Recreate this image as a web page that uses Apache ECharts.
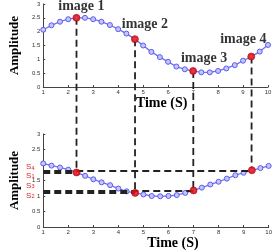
<!DOCTYPE html>
<html><head><meta charset="utf-8">
<script src="https://cdn.jsdelivr.net/npm/echarts@6/dist/echarts.min.js"></script>
<style>html,body{margin:0;padding:0;background:#fff}#c{width:275px;height:251px}</style>
</head><body><div id="c"></div>
<script>
// Time samples (s)
var times = [1.00,1.33,1.67,2.00,2.33,2.67,3.00,3.33,3.67,4.00,4.33,4.67,5.00,5.33,5.67,6.00,6.33,6.67,7.00,7.33,7.67,8.00,8.33,8.67,9.00,9.33,9.67,10.00];
// Top: amplitude
var topAmp = [2.07,2.23,2.36,2.45,2.50,2.50,2.45,2.36,2.24,2.09,1.93,1.73,1.50,1.27,1.08,0.91,0.74,0.64,0.58,0.53,0.53,0.58,0.67,0.79,0.95,1.10,1.28,1.52];
// Bottom: amplitude
var botAmp = [2.05,1.98,1.92,1.85,1.76,1.65,1.54,1.44,1.35,1.24,1.15,1.10,1.05,1.00,0.99,1.00,1.03,1.10,1.18,1.27,1.37,1.46,1.56,1.67,1.75,1.83,1.90,1.97];
// Sampled images (indices into times)
var imageIdx = [4, 11, 18, 25];
var imageNames = ['image 1','image 2','image 3','image 4'];
var sSubs = ['1','2','3','4'];
var xTicks = [1,2,3,4,5,6,7,8,9,10];

var chart = echarts.init(document.getElementById('c'), null, {renderer:'canvas'});
var serif = '"Liberation Serif", "Times New Roman", serif';
var labelOffsets = [[5,-11],[10,-15],[11,-13],[-8,-17]];
var sOffsets = [2.5, 2.5, -5, -3.5];

function axisX(gi, nameGap, pad){
  return {gridIndex:gi, type:'value', min:1, max:10, interval:1,
    name:'Time (S)', nameLocation:'middle', nameGap:nameGap,
    nameTextStyle:{fontFamily:serif, fontWeight:'bold', fontSize:14, color:'#000', padding:[0,0,0,pad]},
    axisLine:{lineStyle:{color:'#444', width:1}},
    axisTick:{inside:true, length:2, lineStyle:{color:'#444'}},
    axisLabel:{fontSize:6, color:'#333', margin:2, fontFamily:'Arial'},
    splitLine:{show:false}};
}
function axisY(gi, nameGap, hide2){
  return {gridIndex:gi, type:'value', min:0, max:3, interval:0.5,
    name:'Amplitude', nameLocation:'middle', nameGap:nameGap, nameRotate:90,
    nameTextStyle:{fontFamily:serif, fontWeight:'bold', fontSize:13, color:'#000'},
    axisLine:{show:true, lineStyle:{color:'#444', width:1}},
    axisTick:{show:true, inside:true, length:2, lineStyle:{color:'#444'}},
    axisLabel:{fontSize:6, color:'#333', margin:3, fontFamily:'Arial',
      formatter:function(v){ return (hide2 && v===2) ? '' : String(v); }},
    splitLine:{show:false}};
}
function pts(arr){ return times.map(function(t,i){ return [t, arr[i]]; }); }
var blueLine = {type:'line', symbol:'circle', symbolSize:5, showSymbol:true,
  lineStyle:{color:'#6f6ff0', width:1.3},
  itemStyle:{color:'#c4c4ff', borderColor:'#5a5aee', borderWidth:1}, z:3, animation:false};

var topRed = imageIdx.map(function(k,i){
  return {value:[times[k], topAmp[k]],
    label:{show:true, formatter:imageNames[i], position:'inside', offset:labelOffsets[i],
      fontFamily:serif, fontWeight:'bold', fontSize:14, color:'#000'}};
});
var botRed = imageIdx.map(function(k){ return [times[k], botAmp[k]]; });
var hLines = imageIdx.map(function(k){
  return [{coord:[1, botAmp[k]]},{coord:[times[k], botAmp[k]]}];
});

var redStyle = {color:'#ee1111', borderColor:'#b00000', borderWidth:0.8};

chart.setOption({
  animation:false,
  grid:[{left:35, right:7, top:4, height:83},{left:33, right:5, top:134, height:93}],
  xAxis:[axisX(0, 8, 12), axisX(1, 9, 34)],
  yAxis:[axisY(0, 14, false), axisY(1, 17, true)],
  series:[
    Object.assign({}, blueLine, {xAxisIndex:0, yAxisIndex:0, data:pts(topAmp)}),
    Object.assign({}, blueLine, {xAxisIndex:1, yAxisIndex:1, data:pts(botAmp),
      markLine:{silent:true, symbol:'none', animation:false,
        lineStyle:{color:'#222', width:1.8, type:[7,4]}, label:{show:false}, data:hLines}}),
    {type:'scatter', xAxisIndex:0, yAxisIndex:0, symbolSize:7, itemStyle:redStyle, z:5, data:topRed},
    {type:'scatter', xAxisIndex:1, yAxisIndex:1, symbolSize:7, itemStyle:redStyle, z:5, data:botRed}
  ]
});

var graphics = [];
imageIdx.forEach(function(k, i){
  var p1 = chart.convertToPixel({gridIndex:0}, [times[k], topAmp[k]]);
  var p2 = chart.convertToPixel({gridIndex:1}, [times[k], botAmp[k]]);
  var xm = (p1[0]+p2[0])/2;
  graphics.push({type:'line', z:1, shape:{x1:xm, y1:p1[1], x2:xm, y2:p2[1]},
    style:{stroke:'#222', lineWidth:1.8, lineDash:[7,4]}, silent:true});
});
imageIdx.forEach(function(k, i){
  var p = chart.convertToPixel({gridIndex:1}, [1, botAmp[k]]);
  graphics.push({type:'text', x:p[0]-13, y:p[1]+sOffsets[i], z:10,
    style:{text:'{s|S}{n|' + sSubs[i] + '}', align:'center', verticalAlign:'middle',
      rich:{s:{fontSize:8, fontFamily:'Arial', fill:'#e02020', color:'#e02020', verticalAlign:'bottom', lineHeight:9},
            n:{fontSize:5.5, fontFamily:'Arial', fill:'#e02020', color:'#e02020', verticalAlign:'bottom', lineHeight:7}}}});
});
chart.setOption({graphic:graphics});
</script>
</body></html>
